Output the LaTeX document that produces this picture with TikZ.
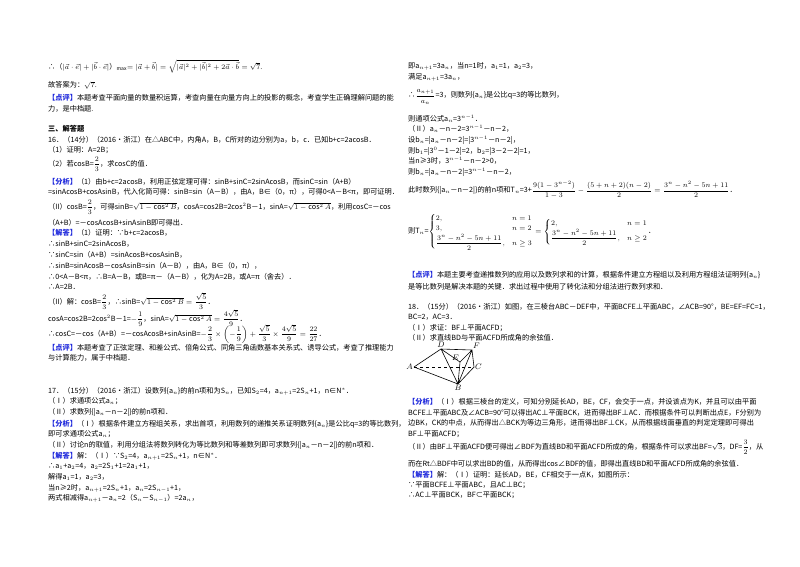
\documentclass[tikz,border=0pt]{standalone}
\usepackage{fontspec}
\setmainfont{Noto Sans CJK SC}
\usepackage{amsmath,amssymb}
\definecolor{kw}{RGB}{30,40,220}
\newcounter{ln}
\newcommand\tl[3]{\stepcounter{ln}\node[txt] (t\arabic{ln}) at (#1,#2) {#3};}
\newcommand\kw[1]{{\color{kw}\bfseries 【#1】}}
\begin{document}
\begin{tikzpicture}[x=1pt,y=-1pt,
 txt/.style={anchor=west,inner sep=0pt,font=\fontsize{7.2}{8.5}\selectfont},
 edge/.style={line width=0.6pt},
 pt/.style={font=\fontsize{8}{9}\selectfont,inner sep=1pt}]
\useasboundingbox[fill=white] (0,0) rectangle (800,566);
% left column
\tl{48}{66}{∴（$|\vec a\cdot\vec e|+|\vec b\cdot\vec e|$）$_{\max}$$=|\vec a+\vec b|=\sqrt{|\vec a|^2+|\vec b|^2+2\vec a\cdot\vec b}=\sqrt7$.}
\tl{48}{85}{故答案为：$\sqrt7$.}
\tl{48}{98}{\kw{点评}本题考查平面向量的数量积运算，考查向量在向量方向上的投影的概念，考查学生正确理解问题的能}
\tl{48}{109}{力，是中档题.}
\tl{48}{129}{\bfseries 三、解答题}
\tl{48}{140}{16．（14分）（2016•浙江）在△ABC中，内角A，B，C所对的边分别为a，b，c．已知b+c=2acosB．}
\tl{48}{150}{（1）证明：A=2B；}
\tl{48}{164}{（2）若cosB=$\dfrac23$，求cosC的值．}
\tl{48}{182}{\kw{分析}（1）由b+c=2acosB，利用正弦定理可得：sinB+sinC=2sinAcosB，而sinC=sin（A+B）}
\tl{48}{192}{=sinAcosB+cosAsinB，代入化简可得：sinB=sin（A－B），由A，B∈（0，π），可得0<A－B<π，即可证明．}
\tl{48}{207}{（II）cosB=$\dfrac23$，可得sinB=$\sqrt{1-\cos^2B}$，cosA=cos2B=2cos$^2$B－1，sinA=$\sqrt{1-\cos^2A}$，利用cosC=－cos}
\tl{48}{223}{（A+B）=－cosAcosB+sinAsinB即可得出．}
\tl{48}{233}{\kw{解答}（1）证明：∵b+c=2acosB，}
\tl{48}{244}{∴sinB+sinC=2sinAcosB，}
\tl{48}{255}{∵sinC=sin（A+B）=sinAcosB+cosAsinB，}
\tl{48}{266}{∴sinB=sinAcosB－cosAsinB=sin（A－B），由A，B∈（0，π），}
\tl{48}{277}{∴0<A－B<π，∴B=A－B，或B=π－（A－B），化为A=2B，或A=π（舍去）．}
\tl{48}{287}{∴A=2B．}
\tl{48}{301}{（II）解：cosB=$\dfrac23$，∴sinB=$\sqrt{1-\cos^2B}=\dfrac{\sqrt5}{3}$．}
\tl{48}{318}{cosA=cos2B=2cos$^2$B－1=$-\dfrac19$，sinA=$\sqrt{1-\cos^2A}=\dfrac{4\sqrt5}{9}$．}
\tl{48}{334}{∴cosC=－cos（A+B）=－cosAcosB+sinAsinB=$-\dfrac23\times\left(-\dfrac19\right)+\dfrac{\sqrt5}{3}\times\dfrac{4\sqrt5}{9}=\dfrac{22}{27}$．}
\tl{48}{348}{\kw{点评}本题考查了正弦定理、和差公式、倍角公式、同角三角函数基本关系式、诱导公式，考查了推理能力}
\tl{48}{358}{与计算能力，属于中档题．}
\tl{48}{391}{17．（15分）（2016•浙江）设数列\{a$_n$\}的前n项和为S$_n$，已知S$_2$=4，a$_{n+1}$=2S$_n$+1，n∈N$^*$．}
\tl{48}{401}{（Ⅰ）求通项公式a$_n$；}
\tl{48}{412}{（Ⅱ）求数列\{|a$_n$－n－2|\}的前n项和．}
\tl{48}{424}{\kw{分析}（Ⅰ）根据条件建立方程组关系，求出首项，利用数列的递推关系证明数列\{a$_n$\}是公比q=3的等比数列，}
\tl{48}{434}{即可求通项公式a$_n$；}
\tl{48}{445}{（Ⅱ）讨论n的取值，利用分组法将数列转化为等比数列和等差数列即可求数列\{|a$_n$－n－2|\}的前n项和．}
\tl{48}{456}{\kw{解答}解：（Ⅰ）∵S$_2$=4，a$_{n+1}$=2S$_n$+1，n∈N$^*$．}
\tl{48}{466}{∴a$_1$+a$_2$=4，a$_2$=2S$_1$+1=2a$_1$+1，}
\tl{48}{477}{解得a$_1$=1，a$_2$=3，}
\tl{48}{488}{当n≥2时，a$_{n+1}$=2S$_n$+1，a$_n$=2S$_{n-1}$+1，}
\tl{48}{498}{两式相减得a$_{n+1}$－a$_n$=2（S$_n$－S$_{n-1}$）=2a$_n$，}
% right column
\tl{408}{66}{即a$_{n+1}$=3a$_n$，当n=1时，a$_1$=1，a$_2$=3，}
\tl{408}{77}{满足a$_{n+1}$=3a$_n$，}
\tl{408}{97}{∴$\dfrac{a_{n+1}}{a_n}$=3，则数列\{a$_n$\}是公比q=3的等比数列，}
\tl{408}{119}{则通项公式a$_n$=3$^{n-1}$．}
\tl{408}{129}{（Ⅱ）a$_n$－n－2=3$^{n-1}$－n－2，}
\tl{408}{140}{设b$_n$=|a$_n$－n－2|=|3$^{n-1}$－n－2|，}
\tl{408}{151}{则b$_1$=|3$^0$－1－2|=2，b$_2$=|3－2－2|=1，}
\tl{408}{161}{当n≥3时，3$^{n-1}$－n－2>0，}
\tl{408}{172}{则b$_n$=|a$_n$－n－2|=3$^{n-1}$－n－2，}
\tl{408}{190}{此时数列\{|a$_n$－n－2|\}的前n项和T$_n$=3+$\dfrac{9(1-3^{n-2})}{1-3}-\dfrac{(5+n+2)(n-2)}{2}=\dfrac{3^n-n^2-5n+11}{2}$．}
\tl{408}{232}{则T$_n$=$\begin{cases}2, & n=1\\ 3, & n=2\\ \dfrac{3^n-n^2-5n+11}{2}, & n\geq3\end{cases}=\begin{cases}2, & n=1\\ \dfrac{3^n-n^2-5n+11}{2}, & n\geq2\end{cases}$．}
\tl{408}{275}{\kw{点评}本题主要考查递推数列的应用以及数列求和的计算，根据条件建立方程组以及利用方程组法证明列\{a$_n$\}}
\tl{408}{287}{是等比数列是解决本题的关键．求出过程中使用了转化法和分组法进行数列求和．}
\tl{408}{307}{18．（15分）（2016•浙江）如图，在三棱台ABC－DEF中，平面BCFE⊥平面ABC，∠ACB=90°，BE=EF=FC=1，}
\tl{408}{317}{BC=2，AC=3．}
\tl{408}{328}{（Ⅰ）求证：BF⊥平面ACFD；}
\tl{408}{338}{（Ⅱ）求直线BD与平面ACFD所成角的余弦值．}
% figure
\coordinate (A) at (414,367); \coordinate (B) at (458,384); \coordinate (C) at (474,367);
\coordinate (D) at (441,349); \coordinate (E) at (460,362); \coordinate (F) at (472,350);
\draw[edge] (A)--(D)--(F)--(C)--(B)--(A) (D)--(B) (D)--(E)--(F) (E)--(B) (F)--(B);
\draw[edge,dashed] (A)--(C);
\node[pt,anchor=east] (lA) at (A) {$A$}; \node[pt,anchor=south] (lD) at (D) {$D$};
\node[pt,anchor=south west] (lF) at (F) {$F$}; \node[pt,anchor=west] (lC) at (C) {$C$};
\node[pt,anchor=north] (lB) at (B) {$B$}; \node[pt,anchor=south east] (lE) at (E) {$E$};
\tl{408}{402}{\kw{分析}（Ⅰ）根据三棱台的定义，可知分别延长AD，BE，CF，会交于一点，并设该点为K，并且可以由平面}
\tl{408}{413}{BCFE⊥平面ABC及∠ACB=90°可以得出AC⊥平面BCK，进而得出BF⊥AC．而根据条件可以判断出点E，F分别为}
\tl{408}{423}{边BK，CK的中点，从而得出△BCK为等边三角形，进而得出BF⊥CK，从而根据线面垂直的判定定理即可得出}
\tl{408}{434}{BF⊥平面ACFD；}
\tl{408}{447}{（Ⅱ）由BF⊥平面ACFD便可得出∠BDF为直线BD和平面ACFD所成的角，根据条件可以求出BF=$\sqrt3$，DF=$\dfrac32$，从}
\tl{408}{464}{而在Rt△BDF中可以求出BD的值，从而得出cos∠BDF的值，即得出直线BD和平面ACFD所成角的余弦值．}
\tl{408}{475}{\kw{解答}解：（Ⅰ）证明：延长AD，BE，CF相交于一点K，如图所示：}
\tl{408}{485}{∵平面BCFE⊥平面ABC，且AC⊥BC；}
\tl{408}{495}{∴AC⊥平面BCK，BF⊂平面BCK；}
\end{tikzpicture}
\end{document}
